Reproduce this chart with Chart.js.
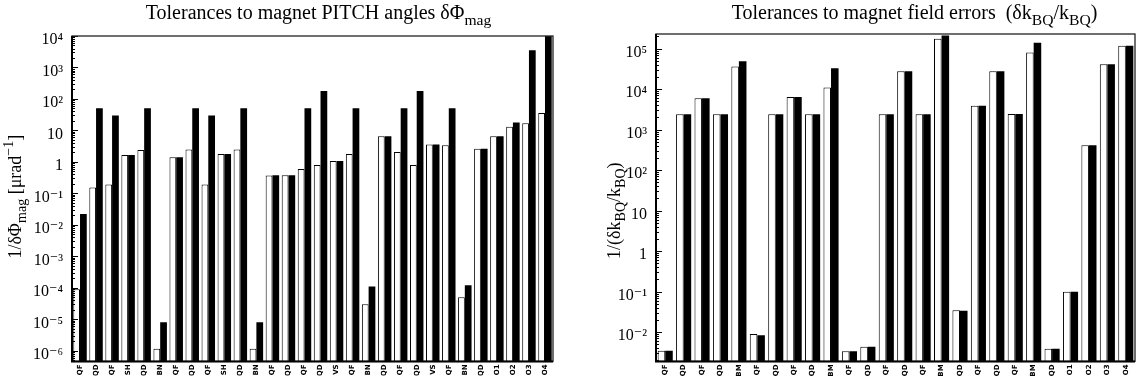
<!DOCTYPE html>
<html>
<head>
<meta charset="utf-8">
<script src="https://cdn.jsdelivr.net/npm/chart.js@4.4.1/dist/chart.umd.min.js"></script>
<style>
  body { margin: 0; background: #fff; }
  .panel { position: absolute; top: 0; width: 570px; height: 380px; }
</style>
</head>
<body>
<div class="panel" style="left:0"><canvas id="pitch" width="570" height="380"></canvas></div>
<div class="panel" style="left:570px"><canvas id="field" width="570" height="380"></canvas></div>
<script>
// left panel: 1/dPhi_mag per magnet, white = first case, black = second case
const pitchLabels = ['QF','QD','QF','SH','QD','BN','QF','QD','QF','SH','QD','BN','QF','QD','QF',
                     'QD','VS','QF','BN','QD','QF','QD','VS','QF','BN','QD','O1','O2','O3','O4'];
const pitchWhite = [9e-5, 0.155, 0.19, 1.65, 2.4, 1.15e-6, 1.4, 2.5, 0.19, 1.8, 2.5, 1.15e-6, 0.37, 0.38, 0.6,
                    0.8, 1.07, 1.8, 3e-5, 6.5, 2.05, 0.8, 3.6, 3.4, 5e-5, 2.6, 6.5, 13, 17, 36];
const pitchBlack = [0.022, 51, 30, 1.65, 51, 8e-6, 1.4, 51, 30, 1.8, 51, 8e-6, 0.38, 0.38, 51,
                    178, 1.07, 51, 1.1e-4, 6.5, 51, 178, 3.6, 51, 1.2e-4, 2.6, 6.5, 18, 3500, 10000];

// right panel: 1/(dk/k) per magnet
const fieldLabels = ['QF','QD','QF','QD','BM','QF','QD','QF','QD','BM','QF','QD','QF',
                     'QD','QF','BM','QD','QF','QD','QF','BM','QD','O1','O2','O3','O4'];
const fieldWhite = [3.5e-3, 2400, 6000, 2400, 36000, 9e-3, 2400, 6400, 2400, 11000, 3.4e-3, 4.4e-3, 2400,
                    27500, 2400, 175000, 0.035, 3900, 27500, 2450, 80000, 3.9e-3, 0.1, 410, 41000, 118000];
const fieldBlack = [3.5e-3, 2400, 6000, 2400, 49000, 8.4e-3, 2400, 6400, 2400, 33000, 3.4e-3, 4.4e-3, 2400,
                    27500, 2400, 210000, 0.034, 3900, 27500, 2450, 140000, 3.9e-3, 0.1, 410, 41000, 118000];

const SERIF = '"Liberation Serif", "DejaVu Serif", serif';
const SUP = {'-': '\u207B', '0': '\u2070', '1': '\u00B9', '2': '\u00B2', '3': '\u00B3', '4': '\u2074',
             '5': '\u2075', '6': '\u2076', '7': '\u2077', '8': '\u2078', '9': '\u2079'};

function powLabel(v) {
  const k = Math.round(Math.log10(v));
  if (k === 0) return '1';
  if (k === 1) return '10';
  return '10' + String(k).split('').map(c => SUP[c]).join('');
}

// text with sub/superscripts, centred on x, baseline y
function drawRich(ctx, parts, x, y, size) {
  const fontFor = p => (p[1] ? size * 0.78 : size) + 'px ' + SERIF;
  let w = 0;
  parts.forEach(p => { ctx.font = fontFor(p); w += ctx.measureText(p[0]).width; });
  let cx = x - w / 2;
  ctx.textAlign = 'left';
  ctx.textBaseline = 'alphabetic';
  parts.forEach(p => {
    ctx.font = fontFor(p);
    const dy = p[1] === 'sub' ? size * 0.3 : p[1] === 'sup' ? -size * 0.42 : 0;
    ctx.fillText(p[0], cx, y + dy);
    cx += ctx.measureText(p[0]).width;
  });
}

const decor = {
  id: 'decor',
  afterDraw(chart, args, opts) {
    const {ctx, chartArea: a} = chart;
    const y = chart.scales.y;
    ctx.save();
    ctx.strokeStyle = '#000';
    // inward log ticks on the left axis
    ctx.lineWidth = 1;
    const k0 = Math.floor(Math.log10(y.min)), k1 = Math.ceil(Math.log10(y.max));
    for (let k = k0; k <= k1; k++) {
      for (let m = 1; m <= 9; m++) {
        const v = m * Math.pow(10, k);
        if (v < y.min || v > y.max) continue;
        const py = Math.round(y.getPixelForValue(v)) + 0.5;
        ctx.beginPath();
        ctx.moveTo(a.left, py);
        ctx.lineTo(a.left + (m === 1 ? 6 : 3), py);
        ctx.stroke();
      }
    }
    // frame
    ctx.lineWidth = 1.3;
    ctx.strokeStyle = '#222';
    ctx.strokeRect(a.left, a.top, a.right - a.left, a.bottom - a.top);
    ctx.lineWidth = 2;
    ctx.strokeStyle = '#000';
    ctx.beginPath();
    ctx.moveTo(a.left, a.top);
    ctx.lineTo(a.left, a.bottom);
    ctx.lineTo(a.right, a.bottom);
    ctx.stroke();
    // titles
    ctx.fillStyle = '#000';
    drawRich(ctx, opts.title, (a.left + a.right) / 2 + opts.titleShift, 19, 20);
    ctx.translate(opts.yTitleX, (a.top + a.bottom) / 2 + opts.yTitleShift);
    ctx.rotate(-Math.PI / 2);
    drawRich(ctx, opts.yTitle, 0, 0, 18);
    ctx.restore();
  }
};

function makeChart(id, labels, white, black, cfg) {
  return new Chart(document.getElementById(id), {
    type: 'bar',
    data: {
      labels: labels,
      datasets: [
        {data: white, backgroundColor: '#fff', borderColor: '#000', borderWidth: 1,
         categoryPercentage: cfg.catPct, barPercentage: 1},
        {data: black, backgroundColor: '#000', borderColor: '#000', borderWidth: 0,
         categoryPercentage: cfg.catPct, barPercentage: 1}
      ]
    },
    options: {
      responsive: false,
      animation: false,
      devicePixelRatio: 1,
      layout: {padding: {top: cfg.top, right: cfg.right, left: 0, bottom: 0}},
      plugins: {
        legend: {display: false},
        tooltip: {enabled: false},
        decor: cfg.decor
      },
      scales: {
        x: {
          grid: {display: false, drawTicks: false},
          border: {display: false},
          ticks: {
            autoSkip: false, minRotation: 90, maxRotation: 90, padding: 3, color: '#000',
            font: {family: 'DejaVu Sans', size: 7, weight: 'bold'}
          },
          afterFit: s => { s.height = 380 - cfg.bottom; }
        },
        y: {
          type: 'logarithmic',
          min: cfg.min,
          max: cfg.max,
          grid: {display: false, drawTicks: false},
          border: {display: false},
          afterBuildTicks: s => {
            const t = [];
            for (let k = Math.ceil(Math.log10(s.min) - 1e-9); k <= Math.floor(Math.log10(s.max) + 1e-9); k++) {
              t.push({value: Math.pow(10, k)});
            }
            s.ticks = t;
          },
          ticks: {
            callback: v => powLabel(v), padding: 9, labelOffset: 4, color: '#000',
            font: {family: SERIF, size: 16}
          },
          afterFit: s => { s.width = cfg.left; }
        }
      }
    },
    plugins: [decor]
  });
}

makeChart('pitch', pitchLabels, pitchWhite, pitchBlack, {
  min: 4.6e-7, max: 1e4, left: 72, right: 17, top: 36, bottom: 366, catPct: 0.84,
  decor: {
    title: [['Tolerances to magnet PITCH angles \u03B4\u03A6'], ['mag', 'sub']],
    titleShift: 6,
    yTitle: [['1/\u03B4\u03A6'], ['mag', 'sub'], [' [\u03BCrad'], ['\u22121', 'sup'], [']']],
    yTitleX: 21, yTitleShift: -2
  }
});

makeChart('field', fieldLabels, fieldWhite, fieldBlack, {
  min: 1.9e-3, max: 2.3e5, left: 86, right: 5, top: 34, bottom: 364, catPct: 0.82,
  decor: {
    title: [['Tolerances to magnet field errors  (\u03B4k'], ['BQ', 'sub'], ['/k'], ['BQ', 'sub'], [')']],
    titleShift: 19,
    yTitle: [['1/(\u03B4k'], ['BQ', 'sub'], ['/k'], ['BQ', 'sub'], [')']],
    yTitleX: 50, yTitleShift: 13
  }
});
</script>
</body>
</html>
